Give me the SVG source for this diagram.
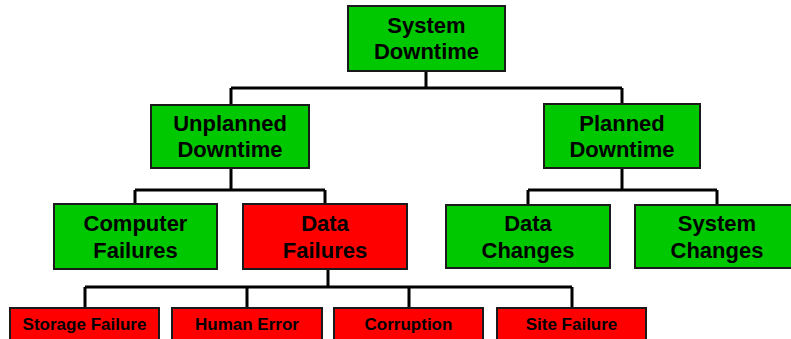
<svg xmlns="http://www.w3.org/2000/svg" width="791" height="339" viewBox="0 0 791 339">
<style>
.g{fill:#00C800;stroke:#1a1a1a;stroke-width:2}
.r{fill:#FF0000;stroke:#1a1a1a;stroke-width:2}
.t{font-family:"Liberation Sans",Arial,sans-serif;font-weight:bold;font-size:22px;fill:#000;text-anchor:middle}
.s{font-family:"Liberation Sans",Arial,sans-serif;font-weight:bold;font-size:17px;fill:#000;text-anchor:middle}
.c{fill:none;stroke:#000;stroke-width:3}
</style>
<rect width="791" height="339" fill="#fff"/>
<g id="connectors">
<path class="c" d="M426,71V88M231,88H622M231,88V105M622,88V104"/>
<path class="c" d="M231,168V190M135,190H325M135,190V204M325,190V204"/>
<path class="c" d="M622,168V190M528,190H717M528,190V205M717,190V205"/>
<path class="c" d="M328,269V287M85,287H572M85,287V308M247,287V308M409,287V308M572,287V308"/>
</g>
<g id="system-downtime">
<rect class="g" x="348" y="6" width="157" height="65"/>
<text class="t" x="426.5" y="33">System</text>
<text class="t" x="426.5" y="59">Downtime</text>
</g>
<g id="unplanned-downtime">
<rect class="g" x="151" y="105" width="158" height="63"/>
<text class="t" x="230" y="131">Unplanned</text>
<text class="t" x="230" y="157">Downtime</text>
</g>
<g id="planned-downtime">
<rect class="g" x="544" y="104" width="156" height="64"/>
<text class="t" x="622" y="131">Planned</text>
<text class="t" x="622" y="157">Downtime</text>
</g>
<g id="computer-failures">
<rect class="g" x="54" y="204" width="163" height="65"/>
<text class="t" x="135.5" y="231">Computer</text>
<text class="t" x="135.5" y="258">Failures</text>
</g>
<g id="data-failures">
<rect class="r" x="243" y="204" width="164" height="65"/>
<text class="t" x="325" y="231">Data</text>
<text class="t" x="325" y="258">Failures</text>
</g>
<g id="data-changes">
<rect class="g" x="446" y="205" width="164" height="63"/>
<text class="t" x="528" y="231">Data</text>
<text class="t" x="528" y="258">Changes</text>
</g>
<g id="system-changes">
<rect class="g" x="635" y="205" width="164" height="63"/>
<text class="t" x="717" y="231">System</text>
<text class="t" x="717" y="258">Changes</text>
</g>
<g id="storage-failure">
<rect class="r" x="10" y="308" width="149" height="40"/>
<text class="s" x="84.5" y="330">Storage Failure</text>
</g>
<g id="human-error">
<rect class="r" x="172" y="308" width="150" height="40"/>
<text class="s" x="247" y="330">Human Error</text>
</g>
<g id="corruption">
<rect class="r" x="334" y="308" width="149" height="40"/>
<text class="s" x="408.5" y="330">Corruption</text>
</g>
<g id="site-failure">
<rect class="r" x="497" y="308" width="149" height="40"/>
<text class="s" x="571.5" y="330">Site Failure</text>
</g>
</svg>
